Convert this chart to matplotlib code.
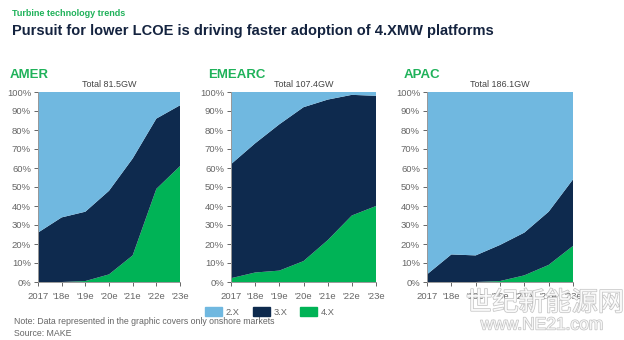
"""Turbine technology trends — stacked share by platform class."""
import matplotlib; matplotlib.use("Agg")
import matplotlib.pyplot as plt
import matplotlib.patches as mpatches
import matplotlib.patheffects as pe

plt.rcParams["font.family"] = ["Liberation Sans", "DejaVu Sans"]

# ── data ─────────────────────────────────────────────────────────────
years = ["2017", "'18e", "'19e", "'20e", "'21e", "'22e", "'23e"]
regions = ["AMER", "EMEARC", "APAC"]
totals = ["Total 81.5GW", "Total 107.4GW", "Total 186.1GW"]

# share (%) of 4.X and 3.X per year; 2.X is the rest
amer_4x = [0, 0, 0.5, 4, 14, 49, 61]
amer_3x = [26, 34, 36.5, 44, 51, 37, 32]
emearc_4x = [2, 5, 6, 11, 22, 35, 40]
emearc_3x = [60, 68, 77, 81, 74, 63.5, 58]
apac_4x = [0, 0, 0, 0.5, 3.5, 9, 19]
apac_3x = [4, 14.5, 14, 19, 22.5, 28, 35]

share_4x = [amer_4x, emearc_4x, apac_4x]
share_3x = [amer_3x, emearc_3x, apac_3x]

C2, C3, C4 = "#70b8e0", "#0e2a4e", "#00b356"
GREEN_TXT = "#1fb25a"
GREY = "#666666"

W, H = 624, 340
fig = plt.figure(figsize=(W / 100, H / 100), dpi=100)
fig.patch.set_facecolor("white")

def px(x, y):
    return x / W, 1 - y / H

# ── titles ───────────────────────────────────────────────────────────
fig.text(*px(12, 13), "Turbine technology trends", color=GREEN_TXT,
         fontsize=6.5, fontweight="bold", va="center")
fig.text(*px(12, 31), "Pursuit for lower LCOE is driving faster adoption of 4.XMW platforms",
         color="#14233f", fontsize=10.5, fontweight="bold", va="center")

# ── panels ───────────────────────────────────────────────────────────
lefts = [38, 231, 427]
widths = [142, 145, 146]
label_x = [10, 208, 404]
top, bottom = 92, 282

for i in range(3):
    l, b = px(lefts[i], bottom)
    ax = fig.add_axes([l, b, widths[i] / W, (bottom - top) / H])
    x = range(len(years))
    s4 = share_4x[i]
    s3 = share_3x[i]
    s2 = [100 - a - c for a, c in zip(s4, s3)]
    ax.stackplot(x, s4, s3, s2, colors=[C4, C3, C2], linewidth=0)
    ax.set_xlim(0, len(years) - 1)
    ax.set_ylim(0, 100)
    ax.set_yticks(range(0, 101, 10))
    ax.set_yticklabels([f"{v}%" for v in range(0, 101, 10)])
    ax.set_xticks(list(x))
    ax.set_xticklabels(years)
    ax.tick_params(colors=GREY, labelsize=6.8, length=3, width=0.7, pad=2)
    ax.tick_params(axis="x", pad=4)
    for sp in ("top", "right"):
        ax.spines[sp].set_visible(False)
    for sp in ("left", "bottom"):
        ax.spines[sp].set_color("#999999")
        ax.spines[sp].set_linewidth(0.7)
    ax.text(0.5, 1.015, totals[i], transform=ax.transAxes, ha="center",
            va="bottom", fontsize=6.5, color="#444444")
    fig.text(*px(label_x[i], 75), regions[i], color=GREEN_TXT,
             fontsize=9.5, fontweight="bold", va="center")

# ── legend ───────────────────────────────────────────────────────────
handles = [mpatches.Patch(color=C2, label="2.X"),
           mpatches.Patch(color=C3, label="3.X"),
           mpatches.Patch(color=C4, label="4.X")]
fig.legend(handles=handles, loc="center", bbox_to_anchor=px(270, 312),
           ncol=3, frameon=False, fontsize=6.7, labelcolor=GREY,
           handlelength=1.8, handleheight=1.1, handletextpad=0.4,
           columnspacing=1.4)

fig.text(*px(14, 321), "Note: Data represented in the graphic covers only onshore markets",
         fontsize=6.3, color=GREY, va="center")
fig.text(*px(14, 333), "Source: MAKE", fontsize=6.3, color=GREY, va="center")

# watermark (outlined)
outline = [pe.withStroke(linewidth=1.0, foreground="#b8b8b8")]
fig.text(*px(545, 303), "世纪新能源网", family=["Noto Sans CJK SC", "DejaVu Sans"],
         fontsize=19, color="white", ha="center", va="center", alpha=0.85,
         path_effects=outline)
fig.text(*px(542, 325), "www.NE21.com", fontsize=12.5, color="white",
         ha="center", va="center", alpha=0.85, path_effects=outline)

fig.savefig("out.png", dpi=100, facecolor="white")
